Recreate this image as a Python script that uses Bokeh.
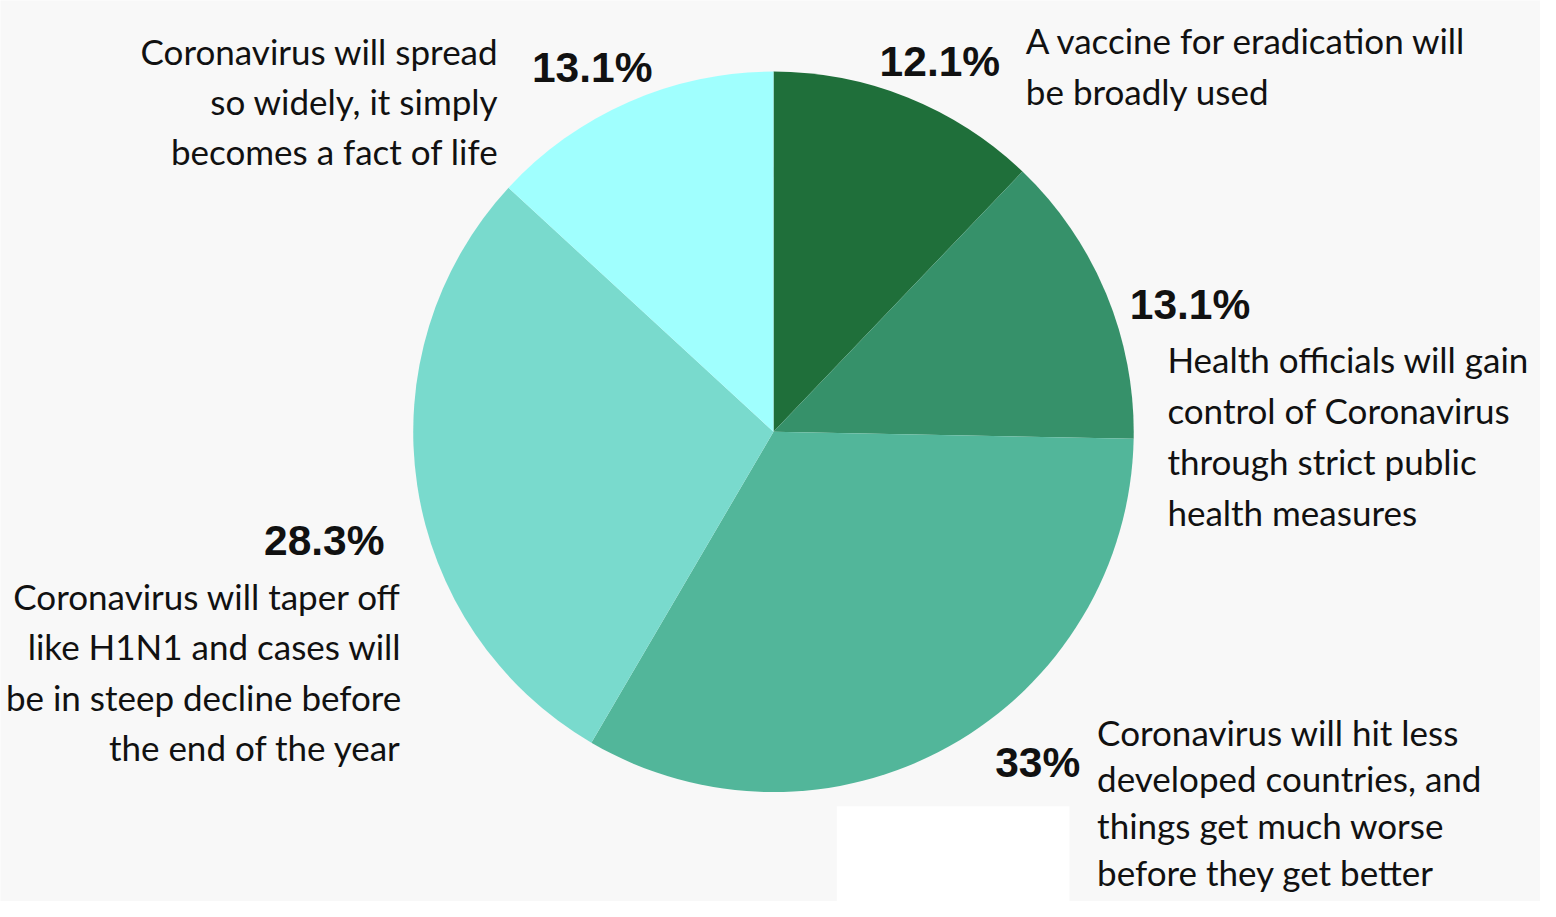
import math
from bokeh.plotting import figure
from bokeh.models import Range1d, ColumnDataSource, BoxAnnotation
from bokeh.core.properties import value
from bokeh.embed import file_html
from bokeh.resources import INLINE

# ---- data ----
categories = [
    "A vaccine for eradication will be broadly used",
    "Health officials will gain control of Coronavirus through strict public health measures",
    "Coronavirus will hit less developed countries, and things get much worse before they get better",
    "Coronavirus will taper off like H1N1 and cases will be in steep decline before the end of the year",
    "Coronavirus will spread so widely, it simply becomes a fact of life",
]
shares = [12.1, 13.1, 33, 28.3, 13.1]
pct_labels = ["12.1%", "13.1%", "33%", "28.3%", "13.1%"]
label_lines = [
    ["A vaccine for eradication will", "be broadly used"],
    ["Health officials will gain", "control of Coronavirus", "through strict public", "health measures"],
    ["Coronavirus will hit less", "developed countries, and", "things get much worse", "before they get better"],
    ["Coronavirus will taper off", "like H1N1 and cases will", "be in steep decline before", "the end of the year"],
    ["Coronavirus will spread", "so widely, it simply", "becomes a fact of life"],
]
colors = ["#1f6f3a", "#36916a", "#52b69a", "#79dacd", "#a0fffe"]

# ---- layout (reference-pixel coordinates; y measured from top) ----
W, H = 1540, 901
RW, RH = 1556, 917
def Y(py):
    return RH - py

cx, cy, R = 781, Y(439), 364

pct_pos = [(1010, 62, "right"), (1141, 309, "left"), (1005, 776, "left"),
           (388, 550, "right"), (537, 68, "left")]
txt_pos = [(1036, 40, 52, "left"), (1179, 365, 51.7, "left"), (1108, 744, 47.5, "left"),
           (405, 606, 51.3, "right"), (503, 51, 51, "right")]

p = figure(width=W, height=H, x_range=Range1d(0, RW), y_range=Range1d(0, RH),
           output_backend="svg", toolbar_location=None, min_border=0)
p.axis.visible = False
p.grid.visible = False
p.outline_line_color = None
p.background_fill_color = "#f8f8f8"
p.border_fill_color = "#f8f8f8"

p.add_layout(BoxAnnotation(left=845, right=1080, bottom=0, top=Y(820),
                           fill_color="white", fill_alpha=1.0, line_color=None, level="underlay"))

total = sum(shares)
cum = [0]
for s in shares:
    cum.append(cum[-1] + s)
starts = [math.pi / 2 - cum[i + 1] / total * 2 * math.pi for i in range(len(shares))]
ends = [math.pi / 2 - cum[i] / total * 2 * math.pi for i in range(len(shares))]
src = ColumnDataSource(dict(start=starts, end=ends, color=colors, cat=categories, val=shares))
p.wedge(x=cx, y=cy, radius=R, start_angle="start", end_angle="end",
        fill_color="color", line_color=None, source=src)

for (x, by, al), t in zip(pct_pos, pct_labels):
    p.text(x=[x], y=[Y(by)], text=[t], text_font=value("Liberation Sans"),
           text_font_style="bold", text_font_size="42.5px", text_color="#111111",
           text_align=al, text_baseline="alphabetic")

for (x, by, step, al), lines in zip(txt_pos, label_lines):
    ys = [Y(by + i * step) for i in range(len(lines))]
    p.text(x=[x] * len(lines), y=ys, text=lines, text_font=value("Lato"),
           text_font_size="35px", text_color="#111111",
           text_align=al, text_baseline="alphabetic")

open("out.html", "w").write(file_html(p, INLINE))
